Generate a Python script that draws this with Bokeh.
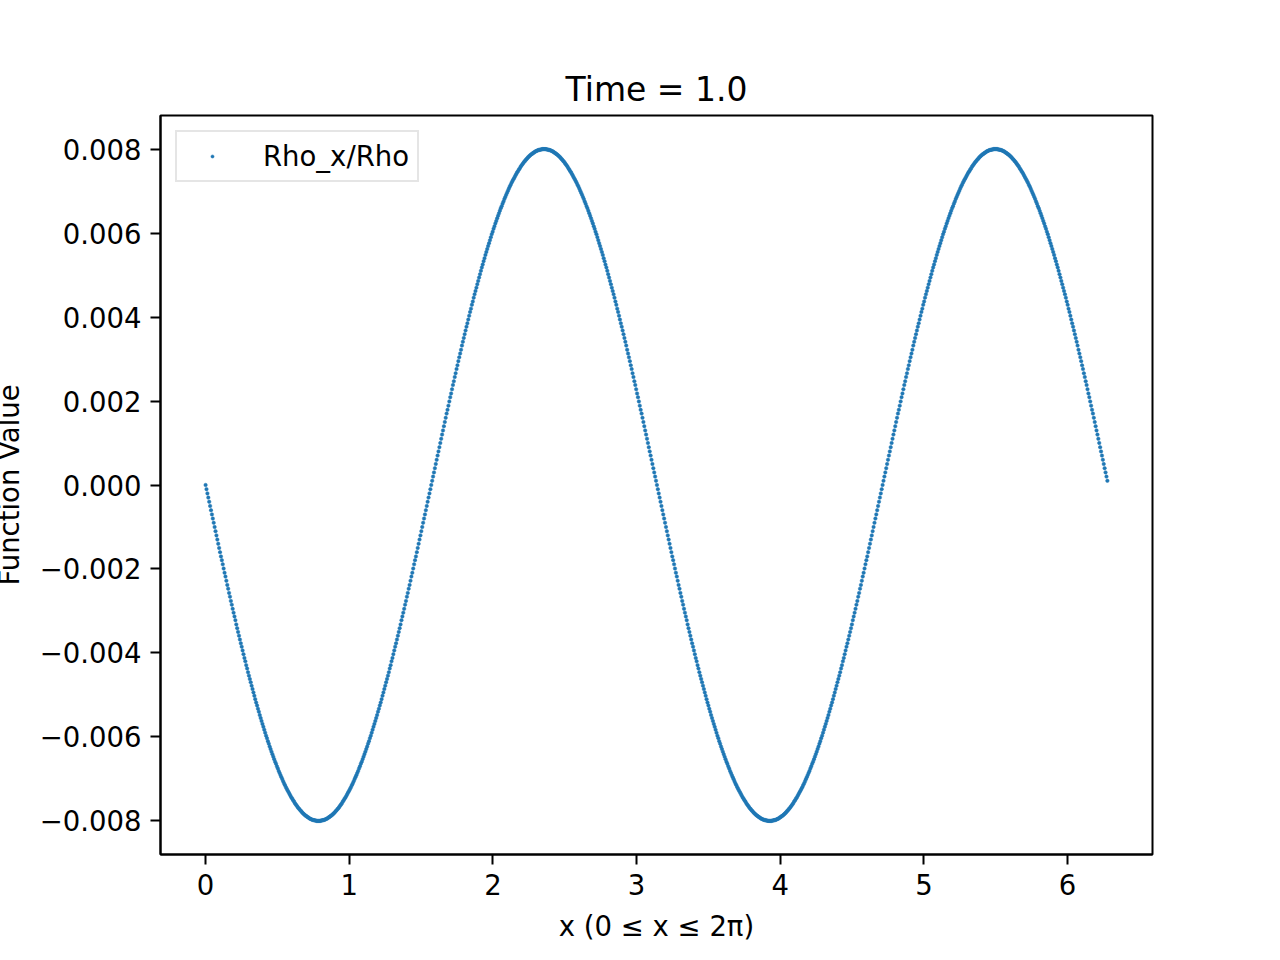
from bokeh.plotting import figure
from bokeh.models import Range1d, FixedTicker, CustomJSTickFormatter
from bokeh.embed import file_html
from bokeh.resources import INLINE
import numpy as np

# ---- data ----
series_label = "Rho_x/Rho"
title_text = "Time = 1.0"
x_label = "x (0 \u2264 x \u2264 2\u03c0)"
y_label = "Function Value"

# sampling grid of x (evenly spaced samples starting at 0)
x_first = 0.0
x_step = 0.0062832

# Rho_x/Rho values, in units of 1e-3
rho_ratio_milli = [
    # first period
    0,-.10,-.20,-.30,-.40,-.50,-.60,-.70,-.80,-.90,
    -1.00,-1.10,-1.20,-1.30,-1.40,-1.50,-1.60,-1.70,-1.79,-1.89,
    -1.99,-2.09,-2.18,-2.28,-2.38,-2.47,-2.57,-2.66,-2.76,-2.85,
    -2.95,-3.04,-3.13,-3.22,-3.32,-3.41,-3.50,-3.59,-3.68,-3.77,
    -3.85,-3.94,-4.03,-4.12,-4.20,-4.29,-4.37,-4.46,-4.54,-4.62,
    -4.70,-4.78,-4.86,-4.94,-5.02,-5.10,-5.18,-5.25,-5.33,-5.40,
    -5.48,-5.55,-5.62,-5.69,-5.76,-5.83,-5.90,-5.97,-6.03,-6.10,
    -6.16,-6.23,-6.29,-6.35,-6.41,-6.47,-6.53,-6.59,-6.64,-6.70,
    -6.75,-6.81,-6.86,-6.91,-6.96,-7.01,-7.06,-7.11,-7.15,-7.20,
    -7.24,-7.28,-7.32,-7.36,-7.40,-7.44,-7.47,-7.51,-7.54,-7.58,
    -7.61,-7.64,-7.67,-7.70,-7.72,-7.75,-7.77,-7.80,-7.82,-7.84,
    -7.86,-7.88,-7.89,-7.91,-7.92,-7.94,-7.95,-7.96,-7.97,-7.98,
    -7.98,-7.99,-7.99,-8.00,-8.00,-8.00,
    -8.00,-8.00,-7.99,-7.99,-7.98,-7.98,-7.97,-7.96,-7.95,-7.94,
    -7.92,-7.91,-7.89,-7.88,-7.86,-7.84,-7.82,-7.80,-7.77,-7.75,
    -7.72,-7.70,-7.67,-7.64,-7.61,-7.58,-7.54,-7.51,-7.47,-7.44,
    -7.40,-7.36,-7.32,-7.28,-7.24,-7.20,-7.15,-7.11,-7.06,-7.01,
    -6.96,-6.91,-6.86,-6.81,-6.75,-6.70,-6.64,-6.59,-6.53,-6.47,
    -6.41,-6.35,-6.29,-6.23,-6.16,-6.10,-6.03,-5.97,-5.90,-5.83,
    -5.76,-5.69,-5.62,-5.55,-5.48,-5.40,-5.33,-5.25,-5.18,-5.10,
    -5.02,-4.94,-4.86,-4.78,-4.70,-4.62,-4.54,-4.46,-4.37,-4.29,
    -4.20,-4.12,-4.03,-3.94,-3.85,-3.77,-3.68,-3.59,-3.50,-3.41,
    -3.32,-3.22,-3.13,-3.04,-2.95,-2.85,-2.76,-2.66,-2.57,-2.47,
    -2.38,-2.28,-2.18,-2.09,-1.99,-1.89,-1.79,-1.70,-1.60,-1.50,
    -1.40,-1.30,-1.20,-1.10,-1.00,-.90,-.80,-.70,-.60,-.50,
    -.40,-.30,-.20,-.10,
    0,.10,.20,.30,.40,.50,.60,.70,.80,.90,
    1.00,1.10,1.20,1.30,1.40,1.50,1.60,1.70,1.79,1.89,
    1.99,2.09,2.18,2.28,2.38,2.47,2.57,2.66,2.76,2.85,
    2.95,3.04,3.13,3.22,3.32,3.41,3.50,3.59,3.68,3.77,
    3.85,3.94,4.03,4.12,4.20,4.29,4.37,4.46,4.54,4.62,
    4.70,4.78,4.86,4.94,5.02,5.10,5.18,5.25,5.33,5.40,
    5.48,5.55,5.62,5.69,5.76,5.83,5.90,5.97,6.03,6.10,
    6.16,6.23,6.29,6.35,6.41,6.47,6.53,6.59,6.64,6.70,
    6.75,6.81,6.86,6.91,6.96,7.01,7.06,7.11,7.15,7.20,
    7.24,7.28,7.32,7.36,7.40,7.44,7.47,7.51,7.54,7.58,
    7.61,7.64,7.67,7.70,7.72,7.75,7.77,7.80,7.82,7.84,
    7.86,7.88,7.89,7.91,7.92,7.94,7.95,7.96,7.97,7.98,
    7.98,7.99,7.99,8.00,8.00,8.00,
    8.00,8.00,7.99,7.99,7.98,7.98,7.97,7.96,7.95,7.94,
    7.92,7.91,7.89,7.88,7.86,7.84,7.82,7.80,7.77,7.75,
    7.72,7.70,7.67,7.64,7.61,7.58,7.54,7.51,7.47,7.44,
    7.40,7.36,7.32,7.28,7.24,7.20,7.15,7.11,7.06,7.01,
    6.96,6.91,6.86,6.81,6.75,6.70,6.64,6.59,6.53,6.47,
    6.41,6.35,6.29,6.23,6.16,6.10,6.03,5.97,5.90,5.83,
    5.76,5.69,5.62,5.55,5.48,5.40,5.33,5.25,5.18,5.10,
    5.02,4.94,4.86,4.78,4.70,4.62,4.54,4.46,4.37,4.29,
    4.20,4.12,4.03,3.94,3.85,3.77,3.68,3.59,3.50,3.41,
    3.32,3.22,3.13,3.04,2.95,2.85,2.76,2.66,2.57,2.47,
    2.38,2.28,2.18,2.09,1.99,1.89,1.79,1.70,1.60,1.50,
    1.40,1.30,1.20,1.10,1.00,.90,.80,.70,.60,.50,
    .40,.30,.20,.10,
    # second period
    0,-.10,-.20,-.30,-.40,-.50,-.60,-.70,-.80,-.90,
    -1.00,-1.10,-1.20,-1.30,-1.40,-1.50,-1.60,-1.70,-1.79,-1.89,
    -1.99,-2.09,-2.18,-2.28,-2.38,-2.47,-2.57,-2.66,-2.76,-2.85,
    -2.95,-3.04,-3.13,-3.22,-3.32,-3.41,-3.50,-3.59,-3.68,-3.77,
    -3.85,-3.94,-4.03,-4.12,-4.20,-4.29,-4.37,-4.46,-4.54,-4.62,
    -4.70,-4.78,-4.86,-4.94,-5.02,-5.10,-5.18,-5.25,-5.33,-5.40,
    -5.48,-5.55,-5.62,-5.69,-5.76,-5.83,-5.90,-5.97,-6.03,-6.10,
    -6.16,-6.23,-6.29,-6.35,-6.41,-6.47,-6.53,-6.59,-6.64,-6.70,
    -6.75,-6.81,-6.86,-6.91,-6.96,-7.01,-7.06,-7.11,-7.15,-7.20,
    -7.24,-7.28,-7.32,-7.36,-7.40,-7.44,-7.47,-7.51,-7.54,-7.58,
    -7.61,-7.64,-7.67,-7.70,-7.72,-7.75,-7.77,-7.80,-7.82,-7.84,
    -7.86,-7.88,-7.89,-7.91,-7.92,-7.94,-7.95,-7.96,-7.97,-7.98,
    -7.98,-7.99,-7.99,-8.00,-8.00,-8.00,
    -8.00,-8.00,-7.99,-7.99,-7.98,-7.98,-7.97,-7.96,-7.95,-7.94,
    -7.92,-7.91,-7.89,-7.88,-7.86,-7.84,-7.82,-7.80,-7.77,-7.75,
    -7.72,-7.70,-7.67,-7.64,-7.61,-7.58,-7.54,-7.51,-7.47,-7.44,
    -7.40,-7.36,-7.32,-7.28,-7.24,-7.20,-7.15,-7.11,-7.06,-7.01,
    -6.96,-6.91,-6.86,-6.81,-6.75,-6.70,-6.64,-6.59,-6.53,-6.47,
    -6.41,-6.35,-6.29,-6.23,-6.16,-6.10,-6.03,-5.97,-5.90,-5.83,
    -5.76,-5.69,-5.62,-5.55,-5.48,-5.40,-5.33,-5.25,-5.18,-5.10,
    -5.02,-4.94,-4.86,-4.78,-4.70,-4.62,-4.54,-4.46,-4.37,-4.29,
    -4.20,-4.12,-4.03,-3.94,-3.85,-3.77,-3.68,-3.59,-3.50,-3.41,
    -3.32,-3.22,-3.13,-3.04,-2.95,-2.85,-2.76,-2.66,-2.57,-2.47,
    -2.38,-2.28,-2.18,-2.09,-1.99,-1.89,-1.79,-1.70,-1.60,-1.50,
    -1.40,-1.30,-1.20,-1.10,-1.00,-.90,-.80,-.70,-.60,-.50,
    -.40,-.30,-.20,-.10,
    0,.10,.20,.30,.40,.50,.60,.70,.80,.90,
    1.00,1.10,1.20,1.30,1.40,1.50,1.60,1.70,1.79,1.89,
    1.99,2.09,2.18,2.28,2.38,2.47,2.57,2.66,2.76,2.85,
    2.95,3.04,3.13,3.22,3.32,3.41,3.50,3.59,3.68,3.77,
    3.85,3.94,4.03,4.12,4.20,4.29,4.37,4.46,4.54,4.62,
    4.70,4.78,4.86,4.94,5.02,5.10,5.18,5.25,5.33,5.40,
    5.48,5.55,5.62,5.69,5.76,5.83,5.90,5.97,6.03,6.10,
    6.16,6.23,6.29,6.35,6.41,6.47,6.53,6.59,6.64,6.70,
    6.75,6.81,6.86,6.91,6.96,7.01,7.06,7.11,7.15,7.20,
    7.24,7.28,7.32,7.36,7.40,7.44,7.47,7.51,7.54,7.58,
    7.61,7.64,7.67,7.70,7.72,7.75,7.77,7.80,7.82,7.84,
    7.86,7.88,7.89,7.91,7.92,7.94,7.95,7.96,7.97,7.98,
    7.98,7.99,7.99,8.00,8.00,8.00,
    8.00,8.00,7.99,7.99,7.98,7.98,7.97,7.96,7.95,7.94,
    7.92,7.91,7.89,7.88,7.86,7.84,7.82,7.80,7.77,7.75,
    7.72,7.70,7.67,7.64,7.61,7.58,7.54,7.51,7.47,7.44,
    7.40,7.36,7.32,7.28,7.24,7.20,7.15,7.11,7.06,7.01,
    6.96,6.91,6.86,6.81,6.75,6.70,6.64,6.59,6.53,6.47,
    6.41,6.35,6.29,6.23,6.16,6.10,6.03,5.97,5.90,5.83,
    5.76,5.69,5.62,5.55,5.48,5.40,5.33,5.25,5.18,5.10,
    5.02,4.94,4.86,4.78,4.70,4.62,4.54,4.46,4.37,4.29,
    4.20,4.12,4.03,3.94,3.85,3.77,3.68,3.59,3.50,3.41,
    3.32,3.22,3.13,3.04,2.95,2.85,2.76,2.66,2.57,2.47,
    2.38,2.28,2.18,2.09,1.99,1.89,1.79,1.70,1.60,1.50,
    1.40,1.30,1.20,1.10,1.00,.90,.80,.70,.60,.50,
    .40,.30,.20,.10,
]

x_ticks = [0, 1, 2, 3, 4, 5, 6]
y_ticks = [-0.008, -0.006, -0.004, -0.002, 0.0, 0.002, 0.004, 0.006, 0.008]

# ---- build ----
y_vals = np.array(rho_ratio_milli) * 1e-3
x_vals = x_first + x_step * np.arange(len(y_vals))

FONT = "DejaVu Sans"
BLUE = "#1f77b4"

p = figure(
    frame_width=992, frame_height=739,
    min_border_left=172, min_border_right=127,
    min_border_top=115, min_border_bottom=105,
    x_range=Range1d(-0.3139, 6.5911),
    y_range=Range1d(-0.0088, 0.0088),
    output_backend="svg", toolbar_location=None,
    title=title_text,
)
# shift the canvas left so the y-axis title sits at the page edge, as in the reference
p.styles = {"margin-left": "-12px"}
p.background_fill_color = "white"
p.border_fill_color = "white"
p.outline_line_color = "black"
p.outline_line_width = 2
p.grid.visible = False

p.scatter(x_vals, y_vals, size=3.5, fill_color=BLUE, line_color=BLUE,
          line_width=0.5, legend_label=series_label)

p.title.align = "center"
p.title.standoff = 13
p.title.text_font = FONT
p.title.text_font_size = "33px"
p.title.text_font_style = "normal"
p.title.text_color = "black"

for ax in (p.xaxis[0], p.yaxis[0]):
    ax.axis_line_color = "black"
    ax.axis_line_width = 2
    ax.major_tick_line_color = "black"
    ax.major_tick_line_width = 2
    ax.major_tick_out = 10
    ax.major_tick_in = 0
    ax.minor_tick_line_color = None
    ax.major_label_text_font = FONT
    ax.major_label_text_font_size = "27.5px"
    ax.major_label_text_color = "black"
    ax.major_label_standoff = 9
    ax.axis_label_text_font = FONT
    ax.axis_label_text_font_size = "27.5px"
    ax.axis_label_text_font_style = "normal"
    ax.axis_label_text_color = "black"

p.xaxis[0].ticker = FixedTicker(ticks=x_ticks)
p.yaxis[0].ticker = FixedTicker(ticks=y_ticks)
p.yaxis[0].formatter = CustomJSTickFormatter(
    code="return (tick < -1e-12 ? '\\u2212' : '') + Math.abs(tick).toFixed(3);")
p.xaxis[0].axis_label = x_label
p.xaxis[0].axis_label_standoff = 12
p.yaxis[0].axis_label = y_label
p.yaxis[0].axis_label_standoff = 12

lg = p.legend[0]
lg.location = "top_left"
lg.margin = 15
lg.padding = 8
lg.spacing = 0
lg.glyph_width = 54
lg.glyph_height = 8
lg.label_standoff = 24
lg.label_text_font = FONT
lg.label_text_font_size = "27.5px"
lg.label_text_color = "black"
lg.border_line_color = "#cccccc"
lg.border_line_width = 2
lg.background_fill_color = "white"
lg.background_fill_alpha = 0.8

open("out.html", "w").write(file_html(p, INLINE))
